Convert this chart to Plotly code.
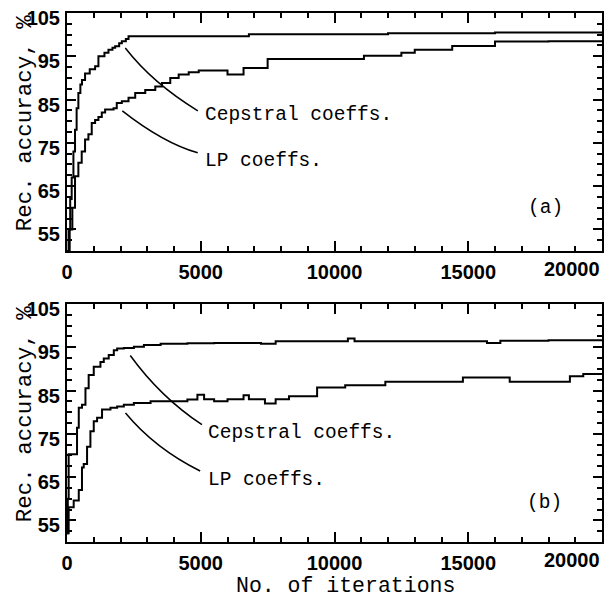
import plotly.graph_objects as go

# ---- data ----
# panel (a)
ceps_a_x = [0, 60, 120, 175, 240, 300, 360, 425, 500, 560, 675, 850, 1050, 1175, 1400, 1550, 1700, 1800, 1950, 2050, 2200, 2300, 6800, 12000, 16000, 20000]
ceps_a_y = [50, 55, 62, 67, 73, 78, 83, 86.5, 88.5, 89.5, 91, 92, 92.7, 95, 95.8, 96.5, 97, 97.3, 98, 98.5, 99, 99.6, 100.1, 100.3, 100.5, 100.6]
lp_a_x = [0, 100, 200, 300, 425, 550, 675, 800, 925, 1050, 1175, 1300, 1425, 1740, 1860, 2050, 2300, 2550, 2925, 3300, 3550, 3860, 4175, 4550, 4925, 6000, 6600, 7500, 11100, 12500, 13000, 14400, 16000, 18000, 20000]
lp_a_y = [50, 55, 60, 67.3, 70.4, 73, 75.8, 77, 79.6, 80.3, 81, 82, 82.7, 83, 84.2, 84.6, 85.4, 86.5, 87.2, 88, 88.8, 90, 90.8, 91.3, 91.7, 90.8, 92.3, 94.4, 95.1, 95.8, 96.5, 97.4, 98.4, 98.5, 98.5]
# panel (b)
ceps_b_x = [0, 30, 62, 375, 440, 560, 690, 810, 1000, 1250, 1375, 1560, 1750, 1875, 2125, 2500, 2875, 3500, 4500, 5500, 7250, 7800, 10500, 10750, 15700, 16200, 18000, 20000]
ceps_b_y = [52, 60, 70.3, 76.4, 81, 81.7, 85.5, 88.6, 90.5, 91.6, 92.4, 93.2, 94.3, 94.7, 94.8, 95.1, 95.5, 95.8, 95.9, 96.0, 95.8, 96.4, 97.0, 96.4, 96.0, 96.5, 96.6, 96.6]
lp_b_x = [0, 62, 250, 440, 560, 625, 750, 875, 1000, 1125, 1310, 1625, 1875, 2125, 2500, 3125, 4500, 4875, 5125, 5500, 6000, 6600, 6800, 7400, 7800, 8300, 9350, 10400, 11900, 14800, 16550, 18800, 19300, 20000]
lp_b_y = [52, 58, 59.6, 62, 67.2, 68, 72, 75.6, 77.9, 78.7, 80.6, 81, 81.3, 81.7, 82.1, 82.5, 82.9, 84.0, 83.0, 82.5, 83.0, 83.9, 83.0, 82.0, 83.0, 83.7, 85.7, 86.2, 87.0, 88.0, 87.0, 88.3, 88.8, 88.8]

y_ticks = [55, 65, 75, 85, 95, 105]
y_tick_text = ["55", "65", "75", "85", "95", "105"]
x_ticks = [0, 5000, 10000, 15000]
x_tick_text = ["0", "5000", "10000", "15000"]
x_last_label = "20000"
y_title = "Rec. accuracy, %"
x_title = "No. of iterations"
label_ceps = "Cepstral coeffs."
label_lp = "LP coeffs."

MONO = "Liberation Mono"
SANS = "Liberation Sans"
TICKFONT = dict(family=SANS, size=20, color="black", weight="bold")
TITLEFONT = dict(family=MONO, size=22.5, color="black")

fig = go.Figure()
line = dict(color="black", width=2, shape="hv")
fig.add_trace(go.Scatter(x=ceps_a_x, y=ceps_a_y, mode="lines", line=line, xaxis="x", yaxis="y"))
fig.add_trace(go.Scatter(x=lp_a_x, y=lp_a_y, mode="lines", line=line, xaxis="x", yaxis="y"))
fig.add_trace(go.Scatter(x=ceps_b_x, y=ceps_b_y, mode="lines", line=line, xaxis="x2", yaxis="y2"))
fig.add_trace(go.Scatter(x=lp_b_x, y=lp_b_y, mode="lines", line=line, xaxis="x2", yaxis="y2"))

xcommon = dict(range=[0, 20000], tickvals=x_ticks, ticktext=x_tick_text, ticks="inside", ticklen=10, tickwidth=1.5,
               tickcolor="black", showline=True, linewidth=2, linecolor="black", mirror="allticks",
               showgrid=False, zeroline=False, automargin=False, ticklabelstandoff=2,
               tickfont=TICKFONT,
               minor=dict(dtick=1000, ticks="inside", ticklen=5, tickwidth=1.5, tickcolor="black", showgrid=False))
ycommon = dict(range=[50, 105], tickvals=y_ticks, ticktext=y_tick_text, ticks="inside", ticklen=9, tickwidth=1.5,
               tickcolor="black", showline=True, linewidth=2, linecolor="black", mirror="allticks",
               showgrid=False, zeroline=False, automargin=False, ticklabelshift=5, ticklabelstandoff=1,
               ticklabeloverflow="allow", tickfont=TICKFONT,
               minor=dict(dtick=2.5, tick0=50, ticks="inside", ticklen=5, tickwidth=1.5, tickcolor="black", showgrid=False))

fig.update_layout(
    width=616, height=597, paper_bgcolor="white", plot_bgcolor="white", showlegend=False,
    margin=dict(l=67, r=14, t=13, b=55),
    xaxis=dict(**xcommon, domain=[0, 1], anchor="y"),
    yaxis=dict(**ycommon, domain=[0.550, 1], anchor="x"),
    xaxis2=dict(**xcommon, domain=[0, 1], anchor="y2"),
    yaxis2=dict(**ycommon, domain=[0, 0.450], anchor="x2"),
)

# axis titles
for yr in ("y", "y2"):
    fig.add_annotation(x=0, y=79.5, xref="paper", yref=yr, text=y_title, showarrow=False,
                       textangle=-90, xanchor="center", yanchor="middle", xshift=-42, font=TITLEFONT)
fig.add_annotation(x=0.52, y=0, xref="paper", yref="paper", text=x_title, showarrow=False,
                   xanchor="center", yanchor="middle", yshift=-44, height=20,
                   font=dict(family=MONO, size=21.5, color="black"))

# callout leader curves
def leader(x0, y0, cx, cy, x1, y1, xr, yr):
    fig.add_shape(type="path", path=f"M {x0},{y0} Q {cx},{cy} {x1},{y1}",
                  xref=xr, yref=yr, line=dict(color="black", width=1.5))

leader(2180, 96.9, 3195, 88.8, 4890, 82.4, "x", "y")
leader(2068, 82.4, 3594, 75.0, 4887, 72.7, "x", "y")
leader(2366, 93.1, 3489, 83.5, 5045, 77.1, "x2", "y2")
leader(2187, 79.8, 3287, 71.6, 4978, 66.4, "x2", "y2")

tf = dict(family=MONO, size=19.5, color="black")
def text(x, y, s, xr, yr, xa="left"):
    fig.add_annotation(x=x, y=y, text=s, xref=xr, yref=yr, showarrow=False, xanchor=xa, yanchor="middle", font=tf)

text(5075, 81.4, label_ceps, "x", "y")
text(5075, 70.8, label_lp, "x", "y")
text(17895, 60.0, "(a)", "x", "y", "center")
text(5213, 75.2, label_ceps, "x2", "y2")
text(5213, 64.4, label_lp, "x2", "y2")
text(17862, 59.1, "(b)", "x2", "y2", "center")

# last x tick label, right-aligned at the axis end
for xr, yr in (("x", "y domain"), ("x2", "y2 domain")):
    fig.add_annotation(x=20000, y=0, xref=xr, yref=yr, text=x_last_label, showarrow=False,
                       xanchor="right", yanchor="top", yshift=-5, font=TICKFONT)

fig.write_html("out.html")
